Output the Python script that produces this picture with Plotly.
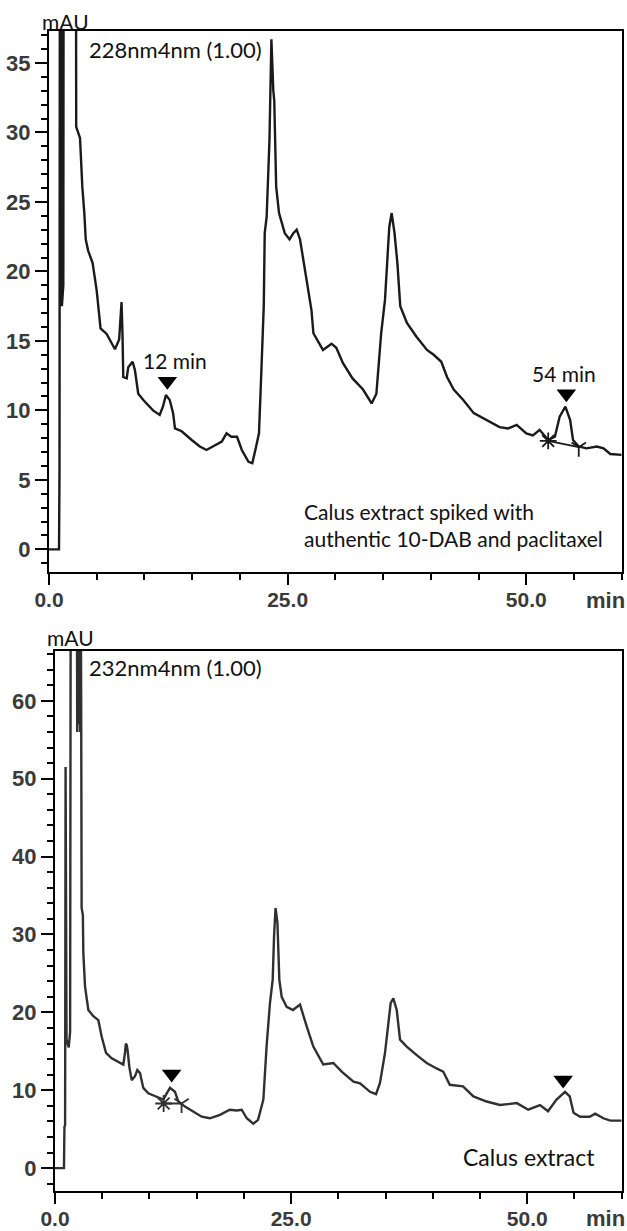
import plotly.graph_objects as go

# ---------------- data ----------------
# Top chromatogram: Calus extract spiked with authentic 10-DAB and paclitaxel (228 nm)
top_time = [0, 1.05, 1.1, 1.15, 1.3, 1.35, 1.5, 1.55, 2.8, 2.85,
            3.25, 3.49, 3.7, 3.85, 4.1, 4.57, 5.0, 5.2, 5.4, 6.04,
            6.91, 7.35, 7.5, 7.6, 7.7, 7.78, 8.14, 8.3, 8.76, 9.0,
            9.35, 9.88, 10.9, 11.6, 11.95, 12.25, 12.65, 13.0, 13.2, 13.9,
            14.95, 15.8, 16.5, 17.2, 18.1, 18.6, 19.1, 19.7, 20.2, 20.9,
            21.3, 21.7, 22.0, 22.2, 22.5, 22.6, 22.8, 23.1, 23.3, 23.5,
            23.6, 23.8, 24.1, 24.7, 25.2, 25.6, 25.95, 26.3, 26.8, 27.5,
            27.7, 28.7, 29.6, 30.1, 30.8, 31.8, 32.9, 33.8, 34.3, 34.8,
            35.2, 35.45, 35.65, 35.9, 36.2, 36.5, 36.8, 37.5, 38.5, 39.6,
            40.3, 41.1, 41.7, 42.4, 43.4, 44.5, 45.8, 47.2, 48.1, 49.0,
            50.0, 50.7, 51.4, 52.3, 53.0, 53.5, 54.1, 54.6, 54.9, 55.5,
            56.3, 57.4, 58.1, 58.8, 60.0]
top_mau = [0, 0, 5.7, 60, 60, 17.5, 19.0, 60, 60, 30.4,
           29.6, 26.1, 24.2, 22.3, 21.5, 20.6, 18.6, 17.0, 15.9, 15.5,
           14.4, 15.1, 16.5, 17.8, 15.5, 12.4, 12.3, 13.1, 13.5, 12.9,
           11.2, 10.75, 10.0, 9.67, 10.3, 11.1, 10.75, 9.8, 8.7, 8.5,
           7.87, 7.4, 7.15, 7.4, 7.75, 8.35, 8.1, 8.1, 7.15, 6.3,
           6.2, 7.4, 8.35, 11.95, 17.5, 22.75, 23.9, 29.5, 36.7, 33.0,
           32.3, 26.1, 24.2, 22.75, 22.3, 22.75, 23.0, 22.3, 20.3, 17.2,
           15.55, 14.35, 14.8, 14.5, 13.4, 12.3, 11.5, 10.5, 11.2, 15.55,
           17.95, 21.1, 23.2, 24.2, 22.75, 20.6, 17.5, 16.3, 15.3, 14.35,
           14.0, 13.5, 12.4, 11.5, 10.75, 9.8, 9.3, 8.8, 8.7, 8.95,
           8.35, 8.2, 8.6, 7.87, 8.1, 9.55, 10.27, 9.3, 7.87, 7.4,
           7.27, 7.4, 7.27, 6.86, 6.8]

# Bottom chromatogram: Calus extract (232 nm)
bot_time = [0, 0.95, 1.0, 1.07, 1.12, 1.22, 1.45, 1.6, 1.68, 2.3,
            2.35, 2.42, 2.5, 2.58, 2.66, 2.74, 2.78, 2.82, 2.95, 3.0,
            3.18, 3.53, 4.06, 4.59, 4.94, 5.4, 6.0, 6.88, 7.23, 7.41,
            7.5, 7.6, 7.7, 7.87, 8.12, 8.47, 8.72, 9.0, 9.35, 9.88,
            10.77, 11.47, 11.83, 12.18, 12.7, 13.06, 13.76, 14.64, 15.53, 16.4,
            17.47, 18.5, 19.24, 19.77, 20.3, 21.0, 21.5, 22.06, 22.4, 22.76,
            23.05, 23.19, 23.35, 23.55, 23.75, 24.0, 24.53, 25.2, 25.94, 26.65,
            27.35, 28.4, 29.47, 30.35, 31.6, 32.3, 33.35, 33.99, 34.4, 34.94,
            35.3, 35.54, 35.82, 36.18, 36.53, 37.24, 38.3, 39.35, 40.4, 41.1,
            41.8, 43.2, 44.3, 45.7, 47.1, 48.9, 50.1, 51.35, 52.2, 53.1,
            54.0, 54.5, 54.9, 55.6, 56.6, 57.2, 58.05, 58.8, 60.0]
bot_mau = [0, 0, 5.3, 5.5, 51.5, 16.5, 15.5, 17.5, 90, 90,
           56, 72, 57, 72, 56, 72, 55.4, 33.4, 32.5, 27.6,
           23.3, 20.3, 19.5, 19.0, 16.9, 14.8, 14.1, 13.5, 13.3, 14.8,
           16.0, 15.8, 15.0, 13.0, 11.3, 11.8, 12.6, 12.2, 10.3, 9.6,
           9.2, 8.8, 9.6, 10.3, 9.8, 8.55, 7.9, 7.3, 6.6, 6.4,
           6.85, 7.5, 7.4, 7.5, 6.4, 5.7, 6.2, 8.8, 15.6, 21.2,
           24.2, 29.7, 33.4, 31.5, 24.2, 22.0, 20.7, 20.3, 21.0, 18.2,
           15.6, 13.3, 13.5, 12.4, 11.1, 10.9, 9.8, 9.5, 10.9, 14.8,
           19.0, 21.2, 21.8, 20.3, 16.5, 15.6, 14.5, 13.5, 12.8, 12.4,
           10.7, 10.5, 9.2, 8.55, 8.1, 8.35, 7.5, 8.1, 7.3, 8.8,
           9.8, 9.2, 7.1, 6.6, 6.6, 7.0, 6.4, 6.1, 6.1]

# Peak markers (triangles), their labels and integration marks
top_tri_time = [12.4, 54.2]
top_tri_mau = [12.1, 11.2]
top_label_time = [13.2, 54.0]
top_tri_labels = ["12 min", "54 min"]
bot_tri_time = [12.35, 53.8]
bot_tri_mau = [12.1, 11.3]

top_base_time = [52.3, 55.5]
top_base_mau = [7.8, 7.35]
bot_base_time = [11.5, 13.4]
bot_base_mau = [8.3, 8.3]

x_tick_vals = [0, 25, 50]
x_tick_text = ["0.0", "25.0", "50.0"]

top_channel = "228nm4nm (1.00)"
bot_channel = "232nm4nm (1.00)"
top_caption = "Calus extract spiked with<br>authentic 10-DAB and paclitaxel"
bot_caption = "Calus extract"

# ---------------- figure ----------------
W, H = 627, 1231
TXT = dict(family="Lato, 'Open Sans', sans-serif", size=21, color="#111111")
TXT22 = dict(family="Lato, 'Open Sans', sans-serif", size=22, color="#111111")
TXT23 = dict(family="Lato, 'Open Sans', sans-serif", size=23, color="#111111")
TICKF = dict(family="'Liberation Sans', Arial, sans-serif", size=22, color="#3a3a3a",
             weight="bold")
XTICKF = dict(family="'Liberation Sans', Arial, sans-serif", size=21, color="#3a3a3a",
              weight="bold")

fig = go.Figure()

def add_panel(xa, ya, t, v, color, tri_t, tri_v, base_t, base_v):
    fig.add_trace(go.Scatter(x=t, y=v, mode="lines", xaxis=xa, yaxis=ya,
                             line=dict(color=color, width=2.4), hoverinfo="skip",
                             showlegend=False))
    fig.add_trace(go.Scatter(x=base_t, y=base_v, mode="lines", xaxis=xa, yaxis=ya,
                             line=dict(color=color, width=1.8), showlegend=False))
    fig.add_trace(go.Scatter(x=[base_t[0]], y=[base_v[0]], mode="markers", xaxis=xa, yaxis=ya,
                             marker=dict(symbol="asterisk-open", size=14, color=color,
                                         line=dict(color=color, width=1.8)),
                             showlegend=False))
    fig.add_trace(go.Scatter(x=[base_t[1]], y=[base_v[1]], mode="markers", xaxis=xa, yaxis=ya,
                             marker=dict(symbol="y-down-open", size=12, color=color,
                                         line=dict(color=color, width=1.8)),
                             showlegend=False))
    fig.add_trace(go.Scatter(x=tri_t, y=tri_v, mode="markers", xaxis=xa, yaxis=ya,
                             marker=dict(symbol="triangle-down", size=17, color="black"),
                             showlegend=False))

add_panel("x", "y", top_time, top_mau, "#1a1a1a", top_tri_time, top_tri_mau,
          top_base_time, top_base_mau)
add_panel("x2", "y2", bot_time, bot_mau, "#303030", bot_tri_time, bot_tri_mau,
          bot_base_time, bot_base_mau)

def xaxis(dom, anchor):
    return dict(domain=dom, anchor=anchor, range=[0, 60], showline=True, linecolor="black",
                linewidth=2, mirror=True, ticks="outside", tickvals=x_tick_vals,
                ticktext=x_tick_text, ticklen=11, tickwidth=2, tickcolor="black",
                ticklabelstandoff=-3,
                minor=dict(tick0=0, dtick=5, ticks="outside", ticklen=6, tickwidth=2,
                           tickcolor="black"),
                showgrid=False, zeroline=False, tickfont=XTICKF, fixedrange=True,
                automargin=False)

def yaxis(dom, anchor, rng, dt, mdt):
    return dict(domain=dom, anchor=anchor, range=rng, showline=True, linecolor="black",
                linewidth=2, mirror=True, ticks="outside", tick0=0, dtick=dt,
                ticklen=12, tickwidth=2, tickcolor="black",
                minor=dict(tick0=0, dtick=mdt, ticks="outside", ticklen=6, tickwidth=2,
                           tickcolor="black"),
                showgrid=False, zeroline=False, tickfont=TICKF, fixedrange=True,
                automargin=False)

fig.update_layout(
    width=W, height=H, margin=dict(l=0, r=0, t=0, b=0, pad=0, autoexpand=False),
    paper_bgcolor="white", plot_bgcolor="white", showlegend=False,
    xaxis=xaxis([49 / W, 621.7 / W], "y"),
    yaxis=yaxis([1 - 572 / H, 1 - 31 / H], "x", [-1.63, 37.3], 5, 1),
    xaxis2=xaxis([55 / W, 621.7 / W], "y2"),
    yaxis2=yaxis([1 - 1190.7 / H, 1 - 651 / H], "x2", [-2.9, 66.4], 10, 2),
)

ann = []
# mAU labels
ann.append(dict(text="mAU", xref="paper", yref="paper", x=40 / W, y=1 - 21 / H,
                xanchor="left", yanchor="middle", showarrow=False, font=TXT))
ann.append(dict(text="mAU", xref="paper", yref="paper", x=45 / W, y=1 - 637 / H,
                xanchor="left", yanchor="middle", showarrow=False, font=TXT))
# channel labels
ann.append(dict(text=top_channel, xref="paper", yref="paper", x=87 / W, y=1 - 49 / H,
                xanchor="left", yanchor="middle", showarrow=False, font=TXT22))
ann.append(dict(text=bot_channel, xref="paper", yref="paper", x=87 / W, y=1 - 667 / H,
                xanchor="left", yanchor="middle", showarrow=False, font=TXT22))
# peak labels (top)
for t, v, lab in zip(top_label_time, top_tri_mau, top_tri_labels):
    ann.append(dict(text=lab, xref="x", yref="y", x=t, y=v,
                    xanchor="center", yanchor="bottom", yshift=6, showarrow=False, font=TXT))
# captions
ann.append(dict(text=top_caption, xref="paper", yref="paper", x=302 / W, y=1 - 525 / H,
                xanchor="left", yanchor="middle", align="left", showarrow=False, font=TXT))
ann.append(dict(text=bot_caption, xref="paper", yref="paper", x=461 / W, y=1 - 1157 / H,
                xanchor="left", yanchor="middle", align="left", showarrow=False, font=TXT23))
# "min" axis units
ann.append(dict(text="min", xref="paper", yref="paper", x=605 / W, y=1 - 600 / H,
                xanchor="center", yanchor="middle", showarrow=False, font=TICKF))
ann.append(dict(text="min", xref="paper", yref="paper", x=605 / W, y=1 - 1218 / H,
                xanchor="center", yanchor="middle", showarrow=False, font=TICKF))
fig.update_layout(annotations=ann)

fig.write_html("out.html", config={"displayModeBar": False, "staticPlot": True},
               post_script="document.body.style.margin='0';document.body.style.overflow='hidden';")
